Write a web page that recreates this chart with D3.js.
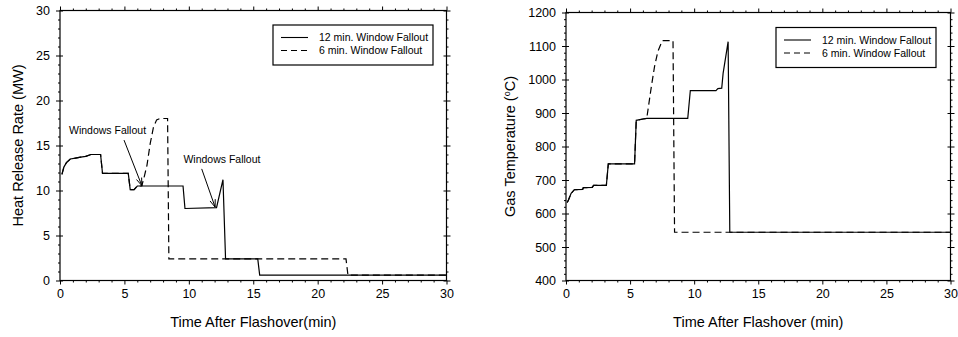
<!DOCTYPE html>
<html>
<head>
<meta charset="utf-8">
<script src="https://cdn.jsdelivr.net/npm/d3@7"></script>
<style>
  body { margin: 0; background: #fff; }
  svg { display: block; font-family: "Liberation Sans", Arial, sans-serif; }
</style>
</head>
<body>
<svg id="chart" width="958" height="337"></svg>
<script>
const WIDTH = 958, HEIGHT = 337

// heat release rate (MW) vs time after flashover (min)
const hrrTime12 = [0.15, 0.3, 0.5, 0.8, 1.2, 1.6, 2.0, 2.4, 3.15, 3.3, 5.3, 5.45, 5.75, 6.0, 9.55, 9.7, 12.15, 12.65, 12.85, 15.35, 15.5, 30]
const hrr12 = [11.8, 12.6, 13.1, 13.5, 13.6, 13.7, 13.8, 14.0, 14.0, 11.9, 11.9, 10.1, 10.1, 10.5, 10.5, 8.0, 8.1, 11.2, 2.4, 2.4, 0.6, 0.6]
const hrrTime6 = [0.15, 0.3, 0.5, 0.8, 1.2, 1.6, 2.0, 2.4, 3.15, 3.3, 5.3, 5.45, 5.75, 6.0, 6.35, 6.55, 6.75, 7.0, 7.25, 7.5, 7.75, 8.35, 8.45, 22.2, 22.35, 30]
const hrr6 = [11.8, 12.6, 13.1, 13.5, 13.6, 13.7, 13.8, 14.0, 14.0, 11.9, 11.9, 10.1, 10.1, 10.5, 10.5, 11.6, 12.8, 15.2, 17.0, 17.85, 18.0, 18.0, 2.4, 2.4, 0.6, 0.6]

// gas temperature (C) vs time after flashover (min)
const tempTime12 = [0.1, 0.2, 0.4, 0.65, 1.3, 1.35, 2.05, 2.15, 3.15, 3.3, 5.35, 5.48, 6.0, 6.3, 9.5, 9.7, 11.7, 11.85, 12.15, 12.26, 12.65, 12.78, 30]
const temp12 = [633, 641, 660, 671, 672, 677, 678, 684, 684, 748, 748, 878, 882, 884, 884, 967, 967, 973, 974, 1019, 1113, 544, 544]
const tempTime6 = [0.1, 0.2, 0.4, 0.65, 1.3, 1.35, 2.05, 2.15, 3.15, 3.3, 5.35, 5.48, 6.0, 6.3, 6.66, 6.91, 7.17, 7.51, 8.35, 8.47, 30]
const temp6 = [633, 641, 660, 671, 672, 677, 678, 684, 684, 748, 748, 878, 882, 884, 979, 1039, 1084, 1116, 1116, 544, 544]

const seriesNames = ['12 min. Window Fallout', '6 min. Window Fallout']
const xTicks = [0, 5, 10, 15, 20, 25, 30]
const hrrTicks = [0, 5, 10, 15, 20, 25, 30]
const tempTicks = [400, 500, 600, 700, 800, 900, 1000, 1100, 1200]

// annotations: [label, label x, label y, arrow start x, y, arrow tip x, y] in data units
const notes = [
  ['Windows Fallout', 0.7, 16.7, 4.97, 15.6, 6.35, 10.55],
  ['Windows Fallout', 9.58, 13.5, 11.0, 12.4, 12.04, 8.15]
]

const svg = d3.select('#chart')

const drawPanel = function (p) {
  const x = d3.scaleLinear().domain([0, 30]).range([p.left, p.right])
  const y = d3.scaleLinear().domain(p.yDomain).range([p.bottom, p.top])
  const g = svg.append('g')
  const fmt = d3.format('d')

  const xMinor = d3.range(0, 31, 1).filter(v => v % 5 !== 0)
  const yMinor = d3.range(p.yDomain[0], p.yDomain[1] + 0.001, p.yMinorStep).filter(v => !p.yTicks.includes(v))

  const styleAxis = function (sel) {
    sel.select('.domain').remove()
    sel.selectAll('line').attr('stroke', '#000').attr('stroke-width', 1)
    sel.selectAll('text').attr('fill', '#000').style('font-size', '12.5px')
  }

  // outward majors with labels
  g.append('g').attr('transform', `translate(0,${p.bottom})`)
    .call(d3.axisBottom(x).tickValues(xTicks).tickFormat(fmt).tickSize(4).tickPadding(5).tickSizeOuter(0))
    .call(styleAxis)
  g.append('g').attr('transform', `translate(${p.left},0)`)
    .call(d3.axisLeft(y).tickValues(p.yTicks).tickFormat(fmt).tickSize(4).tickPadding(6).tickSizeOuter(0))
    .call(styleAxis)
  g.append('g').attr('transform', `translate(0,${p.top})`)
    .call(d3.axisTop(x).tickValues(xTicks).tickSize(4).tickFormat('').tickSizeOuter(0))
    .call(styleAxis)
  g.append('g').attr('transform', `translate(${p.right},0)`)
    .call(d3.axisRight(y).tickValues(p.yTicks).tickSize(4).tickFormat('').tickSizeOuter(0))
    .call(styleAxis)
  // inward part of majors on y sides
  g.append('g').attr('transform', `translate(${p.left},0)`)
    .call(d3.axisLeft(y).tickValues(p.yTicks).tickSize(-3).tickFormat('').tickSizeOuter(0))
    .call(styleAxis)
  g.append('g').attr('transform', `translate(${p.right},0)`)
    .call(d3.axisRight(y).tickValues(p.yTicks).tickSize(-3).tickFormat('').tickSizeOuter(0))
    .call(styleAxis)
  // minors
  g.append('g').attr('transform', `translate(0,${p.bottom})`)
    .call(d3.axisBottom(x).tickValues(xMinor).tickSize(2).tickFormat('').tickSizeOuter(0))
    .call(styleAxis)
  g.append('g').attr('transform', `translate(0,${p.top})`)
    .call(d3.axisTop(x).tickValues(xMinor).tickSize(2).tickFormat('').tickSizeOuter(0))
    .call(styleAxis)
  g.append('g').attr('transform', `translate(${p.left},0)`)
    .call(d3.axisLeft(y).tickValues(yMinor).tickSize(2).tickFormat('').tickSizeOuter(0))
    .call(styleAxis)
  g.append('g').attr('transform', `translate(${p.right},0)`)
    .call(d3.axisRight(y).tickValues(yMinor).tickSize(2).tickFormat('').tickSizeOuter(0))
    .call(styleAxis)

  // frame
  g.append('rect')
    .attr('x', p.left).attr('y', p.top)
    .attr('width', p.right - p.left).attr('height', p.bottom - p.top)
    .attr('fill', 'none').attr('stroke', '#000').attr('stroke-width', 1.2)

  const line = d3.line().x(d => x(d[0])).y(d => y(d[1]))
  const dashes = [null, '7,4']
  p.series.forEach(function (s, i) {
    g.append('path')
      .datum(d3.zip(s[0], s[1]))
      .attr('d', line)
      .attr('fill', 'none')
      .attr('stroke', '#000')
      .attr('stroke-width', 1.2)
      .attr('stroke-dasharray', dashes[i])
  })

  // legend
  const lg = g.append('g').attr('transform', `translate(${p.legend[0]},${p.legend[1]})`)
  lg.append('rect').attr('width', 160).attr('height', 40)
    .attr('fill', '#fff').attr('stroke', '#000').attr('stroke-width', 1.2)
  seriesNames.forEach(function (name, i) {
    const ly = 12.5 + i * 13
    lg.append('line').attr('x1', 8).attr('x2', 35).attr('y1', ly).attr('y2', ly)
      .attr('stroke', '#000').attr('stroke-width', 1.1).attr('stroke-dasharray', i ? '6,4' : null)
    lg.append('text').attr('x', 46).attr('y', ly).attr('dy', '0.35em')
      .style('font-size', '10.5px').text(name)
  })

  // axis titles
  g.append('text')
    .attr('x', (p.left + p.right) / 2).attr('y', 327)
    .attr('text-anchor', 'middle').style('font-size', '14.5px')
    .text(p.xTitle)
  const yt = g.append('text')
    .attr('transform', `translate(${p.yTitleX},${(p.top + p.bottom) / 2}) rotate(-90)`)
    .attr('text-anchor', 'middle').style('font-size', '14.5px')
  p.yTitle(yt)

  return {x: x, y: y, g: g}
}

const left = drawPanel({
  left: 60, right: 446.5, top: 10.5, bottom: 280.5,
  yDomain: [0, 30], yTicks: hrrTicks, yMinorStep: 1,
  series: [[hrrTime12, hrr12], [hrrTime6, hrr6]],
  legend: [273, 25],
  xTitle: 'Time After Flashover(min)',
  yTitleX: 23,
  yTitle: t => t.text('Heat Release Rate (MW)')
})

drawPanel({
  left: 566, right: 950.5, top: 12.5, bottom: 280.5,
  yDomain: [400, 1200], yTicks: tempTicks, yMinorStep: 20,
  series: [[tempTime12, temp12], [tempTime6, temp6]],
  legend: [776, 27.5],
  xTitle: 'Time After Flashover (min)',
  yTitleX: 515,
  yTitle: function (t) {
    t.append('tspan').text('Gas Temperature (')
    t.append('tspan').attr('dy', '-5').style('font-size', '9px').text('o')
    t.append('tspan').attr('dy', '5').text('C)')
  }
})

// annotations on the heat release panel
notes.forEach(function (n) {
  const ag = left.g.append('g')
  ag.append('text')
    .attr('x', left.x(n[1])).attr('y', left.y(n[2])).attr('dy', '0.35em')
    .style('font-size', '10.5px').text(n[0])
  const x1 = left.x(n[3]), y1 = left.y(n[4]), x2 = left.x(n[5]), y2 = left.y(n[6])
  ag.append('line').attr('x1', x1).attr('y1', y1).attr('x2', x2).attr('y2', y2)
    .attr('stroke', '#000').attr('stroke-width', 1)
  const ang = Math.atan2(y2 - y1, x2 - x1)
  const len = 8, spread = 0.35
  ;[-spread, spread].forEach(function (s) {
    ag.append('line')
      .attr('x1', x2).attr('y1', y2)
      .attr('x2', x2 - len * Math.cos(ang + s)).attr('y2', y2 - len * Math.sin(ang + s))
      .attr('stroke', '#000').attr('stroke-width', 1)
  })
})
</script>
</body>
</html>
